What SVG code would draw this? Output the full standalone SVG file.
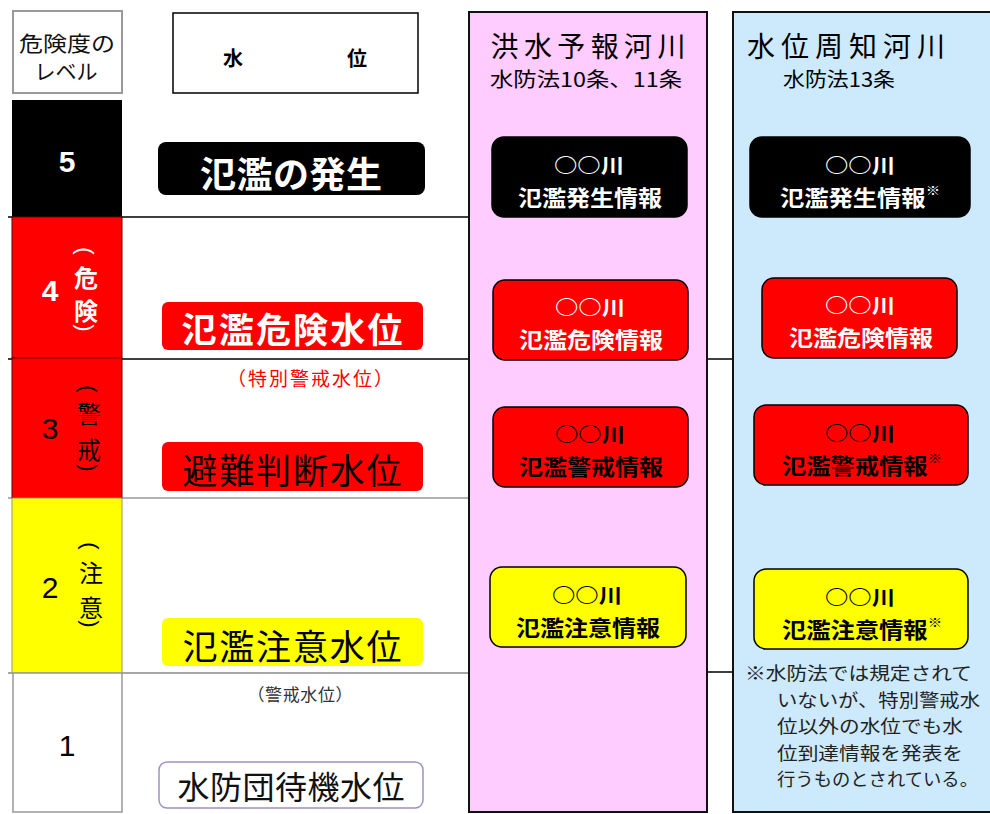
<svg xmlns="http://www.w3.org/2000/svg" width="990" height="814" viewBox="0 0 990 814">
<style>
text{font-family:"Noto Sans CJK JP","Noto Sans CJK SC",sans-serif;dominant-baseline:central;text-anchor:middle}
.b{font-weight:bold}
.num{font-family:"Liberation Sans","Noto Sans CJK JP",sans-serif}
.info{stroke:#000;stroke-width:1.5}
.t1{font-size:20px;font-weight:bold}
.t2{font-size:22px;font-weight:bold}
.sup{font-size:13px}
.par{font-family:"Liberation Sans",sans-serif;font-size:22px}
.note{font-size:18px;fill:#222;text-anchor:start}
</style>
<rect width="990" height="814" fill="#fff"/>

<g id="connectors" stroke-width="1.5" fill="none">
<line x1="8" y1="217" x2="470" y2="217" stroke="#000"/>
<line x1="8" y1="359" x2="470" y2="359" stroke="#000"/>
<line x1="707" y1="359" x2="734" y2="359" stroke="#000"/>
<line x1="8" y1="498" x2="470" y2="498" stroke="#999"/>
<line x1="8" y1="673" x2="470" y2="673" stroke="#888"/>
<line x1="707" y1="672" x2="734" y2="672" stroke="#000"/>
</g>

<g id="level-header">
<rect x="13" y="11" width="109" height="82" fill="#fff" stroke="#999" stroke-width="2"/>
<text x="67" y="42" font-size="21" fill="#111" textLength="96" lengthAdjust="spacingAndGlyphs">危険度の</text>
<text x="66" y="70" font-size="21" fill="#111">レベル</text>
</g>
<g id="water-header">
<rect x="173" y="13" width="245" height="80" fill="#fff" stroke="#000" stroke-width="1.5"/>
<text x="233" y="57" font-size="20" class="b">水</text>
<text x="357" y="57" font-size="20" class="b">位</text>
</g>

<g id="level5">
<rect x="12" y="100" width="110" height="117" fill="#000"/>
<text x="67" y="161" class="num b" font-size="30" fill="#fff">5</text>
</g>
<g id="level4">
<rect x="12" y="217" width="110" height="141" fill="#f00" stroke="#600" stroke-width="1"/>
<text x="50" y="290" class="num b" font-size="30" fill="#fff">4</text>
<text class="par" x="85" y="251" fill="#fff" transform="rotate(90 85 251)">(</text>
<text x="86" y="276" font-size="24" fill="#fff" class="b">危</text>
<text x="86" y="309" font-size="24" fill="#fff" class="b">険</text>
<text class="par" x="85" y="328" fill="#fff" transform="rotate(90 85 328)">)</text>
</g>
<g id="level3">
<rect x="12" y="358" width="110" height="140" fill="#f00" stroke="#600" stroke-width="1"/>
<text x="50" y="428" class="num" font-size="30" fill="#000">3</text>
<text class="par" x="88" y="389" transform="rotate(90 88 389)">(</text>
<text x="89" y="412" font-size="24">警</text>
<text x="89" y="448" font-size="24">戒</text>
<text class="par" x="88" y="468" transform="rotate(90 88 468)">)</text>
</g>
<g id="level2">
<rect x="12" y="498" width="110" height="175" fill="#ff0" stroke="#996" stroke-width="1"/>
<text x="50" y="587" class="num" font-size="30">2</text>
<text class="par" x="90" y="546" transform="rotate(90 90 546)">(</text>
<text x="91" y="571" font-size="24">注</text>
<text x="91" y="606" font-size="24">意</text>
<text class="par" x="90" y="624" transform="rotate(90 90 624)">)</text>
</g>
<g id="level1">
<rect x="13" y="673" width="109" height="139" fill="#fff" stroke="#999" stroke-width="1.5"/>
<text x="67" y="745" class="num" font-size="30">1</text>
</g>

<g id="label-occur">
<rect x="158" y="142" width="267" height="53" rx="8" fill="#000"/>
<text x="291" y="172" font-size="36" class="b" fill="#fff" textLength="182">氾濫の発生</text>
</g>
<g id="label-danger">
<rect x="162" y="302" width="261" height="48" rx="6" fill="#f00"/>
<text x="292" y="327" font-size="35" class="b" fill="#fff" textLength="221">氾濫危険水位</text>
</g>
<g id="label-special">
<text x="310" y="377" font-size="19" fill="#f00" textLength="166">（特別警戒水位）</text>
</g>
<g id="label-evac">
<rect x="162" y="442" width="261" height="49" rx="6" fill="#f00"/>
<text x="292" y="468" font-size="35" fill="#000" textLength="219">避難判断水位</text>
</g>
<g id="label-caution">
<rect x="162" y="618" width="261" height="48" rx="6" fill="#ff0"/>
<text x="292" y="644" font-size="35" fill="#000" textLength="219">氾濫注意水位</text>
</g>
<g id="label-warn">
<text x="300" y="693" font-size="17" fill="#333" textLength="105">（警戒水位）</text>
</g>
<g id="label-standby">
<rect x="159" y="762" width="264" height="46" rx="8" fill="#fff" stroke="#a090c8" stroke-width="1.5"/>
<text x="291" y="785" font-size="32" fill="#111" textLength="227">水防団待機水位</text>
</g>

<g id="col-forecast">
<rect x="469" y="12" width="238" height="800" fill="#fcf" stroke="#111" stroke-width="2"/>
<text x="588" y="45" font-size="28" textLength="195" lengthAdjust="spacing">洪水予報河川</text>
<text x="586" y="78" font-size="20" textLength="192" lengthAdjust="spacingAndGlyphs">水防法10条、11条</text>
</g>
<g id="col-notice">
<rect x="733" y="12" width="270" height="800" fill="#cdeafd" stroke="#111" stroke-width="2"/>
<text x="846" y="45" font-size="28" textLength="198" lengthAdjust="spacing">水位周知河川</text>
<text x="839" y="78" font-size="20" textLength="112" lengthAdjust="spacingAndGlyphs">水防法13条</text>
</g>

<g id="f-occur">
<rect class="info" x="492" y="137" width="195" height="80" rx="12" fill="#000"/>
<text x="589" y="164" class="t1" fill="#fff" textLength="70" lengthAdjust="spacingAndGlyphs">○○川</text>
<text x="590" y="196" class="t2" fill="#fff" textLength="144" lengthAdjust="spacingAndGlyphs">氾濫発生情報</text>
</g>
<g id="f-danger">
<rect class="info" x="493" y="280" width="195" height="80" rx="12" fill="#f00"/>
<text x="590" y="306" class="t1" fill="#fff" textLength="70" lengthAdjust="spacingAndGlyphs">○○川</text>
<text x="591" y="338" class="t2" fill="#fff" textLength="144" lengthAdjust="spacingAndGlyphs">氾濫危険情報</text>
</g>
<g id="f-warn">
<rect class="info" x="493" y="407" width="195" height="80" rx="12" fill="#f00"/>
<text x="590" y="433" class="t1" textLength="70" lengthAdjust="spacingAndGlyphs">○○川</text>
<text x="591" y="465" class="t2" textLength="144" lengthAdjust="spacingAndGlyphs">氾濫警戒情報</text>
</g>
<g id="f-caution">
<rect class="info" x="490" y="567" width="196" height="80" rx="12" fill="#ff0"/>
<text x="587" y="594" class="t1" textLength="70" lengthAdjust="spacingAndGlyphs">○○川</text>
<text x="588" y="626" class="t2" textLength="144" lengthAdjust="spacingAndGlyphs">氾濫注意情報</text>
</g>

<g id="n-occur">
<rect class="info" x="750" y="137" width="220" height="80" rx="12" fill="#000"/>
<text x="860" y="164" class="t1" fill="#fff" textLength="70" lengthAdjust="spacingAndGlyphs">○○川</text>
<text x="860" y="196" class="t2" fill="#fff" textLength="160" lengthAdjust="spacingAndGlyphs">氾濫発生情報<tspan class="sup" dy="-7">※</tspan></text>
</g>
<g id="n-danger">
<rect class="info" x="762" y="278" width="195" height="80" rx="12" fill="#f00"/>
<text x="860" y="304" class="t1" fill="#fff" textLength="70" lengthAdjust="spacingAndGlyphs">○○川</text>
<text x="861" y="336" class="t2" fill="#fff" textLength="144" lengthAdjust="spacingAndGlyphs">氾濫危険情報</text>
</g>
<g id="n-warn">
<rect class="info" x="754" y="405" width="214" height="80" rx="12" fill="#f00"/>
<text x="860" y="432" class="t1" textLength="70" lengthAdjust="spacingAndGlyphs">○○川</text>
<text x="862" y="464" class="t2" textLength="160" lengthAdjust="spacingAndGlyphs">氾濫警戒情報<tspan class="sup" dy="-7">※</tspan></text>
</g>
<g id="n-caution">
<rect class="info" x="754" y="569" width="214" height="80" rx="12" fill="#ff0"/>
<text x="860" y="596" class="t1" textLength="70" lengthAdjust="spacingAndGlyphs">○○川</text>
<text x="862" y="628" class="t2" textLength="160" lengthAdjust="spacingAndGlyphs">氾濫注意情報<tspan class="sup" dy="-7">※</tspan></text>
</g>

<g id="note">
<text class="note" x="745" y="672" textLength="227" lengthAdjust="spacingAndGlyphs">※水防法では規定されて</text>
<text class="note" x="777" y="698.5" textLength="203" lengthAdjust="spacingAndGlyphs">いないが、特別警戒水</text>
<text class="note" x="777" y="725" textLength="186" lengthAdjust="spacingAndGlyphs">位以外の水位でも水</text>
<text class="note" x="777" y="751.5" textLength="186" lengthAdjust="spacingAndGlyphs">位到達情報を発表を</text>
<text class="note" x="777" y="778" textLength="201" lengthAdjust="spacingAndGlyphs">行うものとされている。</text>
</g>
</svg>
